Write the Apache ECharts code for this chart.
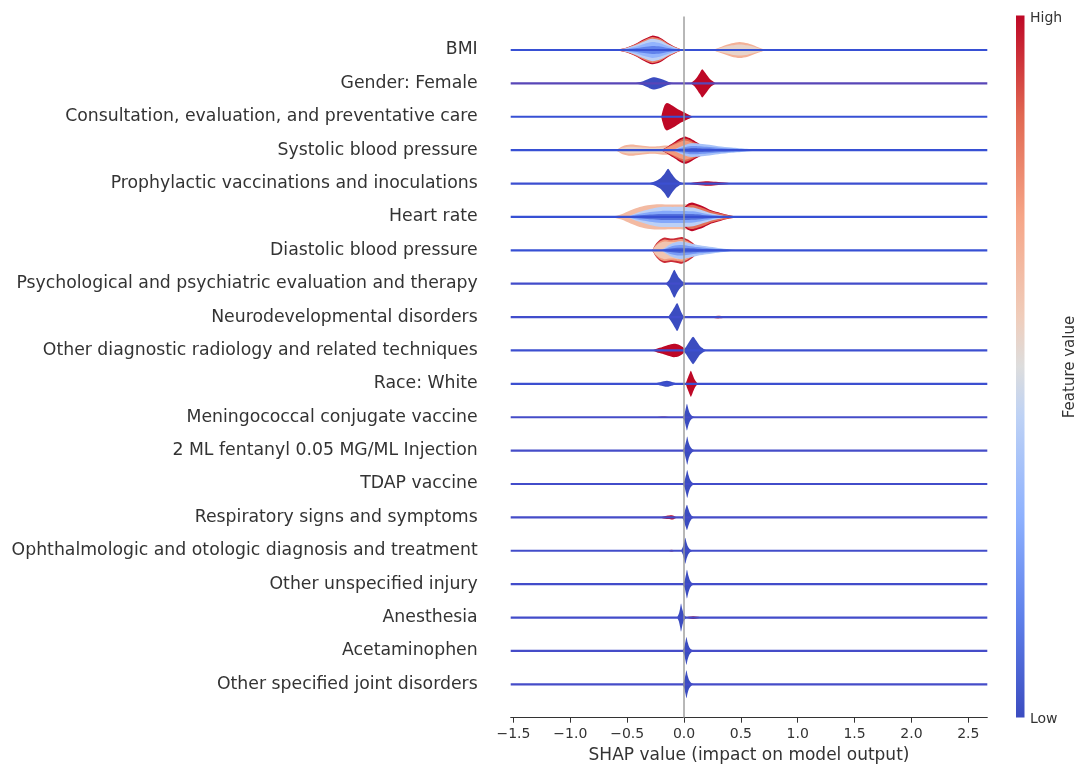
<!DOCTYPE html>
<html>
<head>
<meta charset="utf-8">
<title>SHAP violin summary</title>
<script src="https://cdn.jsdelivr.net/npm/echarts@6/dist/echarts.min.js"></script>
<style>
  html, body { margin: 0; padding: 0; background: #fff; }
  #chart { width: 1077px; height: 765px; }
</style>
</head>
<body>
<div id="chart"></div>
<script>
// Features, top to bottom
const features = [
  'BMI',
  'Gender: Female',
  'Consultation, evaluation, and preventative care',
  'Systolic blood pressure',
  'Prophylactic vaccinations and inoculations',
  'Heart rate',
  'Diastolic blood pressure',
  'Psychological and psychiatric evaluation and therapy',
  'Neurodevelopmental disorders',
  'Other diagnostic radiology and related techniques',
  'Race: White',
  'Meningococcal conjugate vaccine',
  '2 ML fentanyl 0.05 MG/ML Injection',
  'TDAP vaccine',
  'Respiratory signs and symptoms',
  'Ophthalmologic and otologic diagnosis and treatment',
  'Other unspecified injury',
  'Anesthesia',
  'Acetaminophen',
  'Other specified joint disorders'
];

const xTicks = [-1.5, -1.0, -0.5, 0.0, 0.5, 1.0, 1.5, 2.0, 2.5];
const xRange = [-1.524, 2.667];

// Share of high-valued samples along each row's thin baseline (0 = all low, 1 = all high)
const baselineMix = [0, 0.35, 0, 0, 0.05, 0, 0, 0.12, 0.1, 0.05, 0.05, 0.15, 0.15, 0.12, 0.15, 0.12, 0.12, 0.12, 0.15, 0.15];

// Violin lobes: pts = [SHAP value, half density (in row heights)],
// layers = [feature value colour (0 low .. 1 high), density scale], outer first
const vBMI = [
  { pts: [[-0.61,0],[-0.51,0.07],[-0.43,0.18],[-0.35,0.33],[-0.28,0.43],[-0.21,0.37],[-0.14,0.21],[-0.07,0.08],[-0.01,0]],
    layers: [[1,1],[0.8,0.9],[0.42,0.78],[0.3,0.55],[0.15,0.28]] },
  { pts: [[0.25,0],[0.33,0.1],[0.42,0.2],[0.49,0.24],[0.56,0.2],[0.64,0.1],[0.72,0]],
    layers: [[0.67,1],[0.54,0.7]] }
];
const vGender = [
  { pts: [[-0.43,0],[-0.36,0.06],[-0.3,0.15],[-0.26,0.18],[-0.2,0.13],[-0.14,0.05],[-0.08,0]], layers: [[0,1]] },
  { pts: [[0.06,0],[0.1,0.12],[0.14,0.32],[0.16,0.42],[0.19,0.3],[0.23,0.12],[0.28,0]], layers: [[1,1]] }
];
const vConsult = [
  { pts: [[-0.2,0],[-0.19,0.15],[-0.17,0.35],[-0.15,0.41],[-0.1,0.33],[-0.04,0.2],[0.02,0.1],[0.08,0]], layers: [[1,1]] }
];
const vSystolic = [
  { pts: [[-0.6,0],[-0.54,0.12],[-0.47,0.17],[-0.38,0.14],[-0.3,0.11],[-0.22,0.12],[-0.15,0.14],[-0.1,0.1],[-0.05,0]],
    layers: [[0.66,1],[0.55,0.6]] },
  { pts: [[-0.2,0],[-0.14,0.12],[-0.08,0.25],[-0.03,0.36],[0.01,0.41],[0.05,0.36],[0.1,0.26],[0.16,0.15],[0.22,0.07],[0.28,0]],
    layers: [[1,1],[0.86,0.85],[0.74,0.7]] },
  { pts: [[-0.1,0],[-0.02,0.12],[0.05,0.2],[0.12,0.2],[0.2,0.17],[0.3,0.12],[0.42,0.08],[0.55,0.04],[0.65,0]],
    layers: [[0.36,1],[0.2,0.6],[0.06,0.3]] }
];
const vProphylactic = [
  { pts: [[-0.31,0],[-0.26,0.06],[-0.21,0.15],[-0.17,0.3],[-0.14,0.44],[-0.11,0.3],[-0.07,0.13],[-0.03,0.04],[0.0,0]], layers: [[0,1]] },
  { pts: [[0.02,0],[0.1,0.04],[0.19,0.07],[0.28,0.05],[0.38,0.02],[0.45,0]], layers: [[1,1]] }
];
const vHeart = [
  { pts: [[-0.64,0],[-0.55,0.08],[-0.47,0.2],[-0.39,0.3],[-0.3,0.36],[-0.22,0.38],[-0.12,0.37],[-0.04,0.37],[0.02,0.38],[0.08,0.36],[0.14,0.28],[0.2,0.2],[0.28,0.1],[0.36,0.04],[0.45,0]],
    layers: [[0.64,1]] },
  { pts: [[-0.06,0],[-0.02,0.2],[0.03,0.38],[0.07,0.43],[0.12,0.38],[0.18,0.3],[0.24,0.2],[0.32,0.12],[0.4,0.05],[0.49,0]],
    layers: [[1,1],[0.84,0.85]] },
  { pts: [[-0.5,0],[-0.4,0.14],[-0.3,0.24],[-0.2,0.3],[-0.1,0.3],[0.0,0.3],[0.08,0.28],[0.16,0.2],[0.25,0.1],[0.35,0.03],[0.42,0]],
    layers: [[0.42,1],[0.26,0.6],[0.1,0.3]] }
];
const vDiastolic = [
  { pts: [[-0.28,0],[-0.25,0.18],[-0.21,0.32],[-0.17,0.38],[-0.12,0.35],[-0.07,0.37],[-0.02,0.4],[0.03,0.33],[0.07,0.24],[0.11,0.12],[0.15,0]],
    layers: [[0.95,1],[0.74,0.85],[0.6,0.7]] },
  { pts: [[-0.2,0],[-0.12,0.18],[-0.04,0.26],[0.04,0.22],[0.12,0.16],[0.2,0.12],[0.3,0.07],[0.4,0.03],[0.47,0]],
    layers: [[0.38,1],[0.22,0.6],[0.08,0.3]] }
];
const vPsych = [
  { pts: [[-0.16,0],[-0.13,0.12],[-0.105,0.3],[-0.085,0.42],[-0.065,0.3],[-0.04,0.16],[-0.01,0.06],[0.03,0]], layers: [[0,1]] }
];
const vNeuro = [
  { pts: [[-0.14,0],[-0.11,0.15],[-0.08,0.32],[-0.06,0.42],[-0.04,0.28],[-0.02,0.12],[0.0,0]], layers: [[0,1]] },
  { pts: [[0.2,0],[0.3,0.04],[0.42,0]], layers: [[0.95,1]] }
];
const vRadiology = [
  { pts: [[-0.28,0],[-0.24,0.05],[-0.19,0.1],[-0.14,0.16],[-0.09,0.2],[-0.05,0.18],[-0.01,0.1],[0.01,0]], layers: [[1,1]] },
  { pts: [[-0.01,0],[0.02,0.12],[0.05,0.28],[0.08,0.41],[0.11,0.28],[0.14,0.13],[0.17,0.05],[0.2,0]], layers: [[0,1]] }
];
const vRace = [
  { pts: [[-0.27,0],[-0.21,0.05],[-0.15,0.09],[-0.1,0.05],[-0.05,0]], layers: [[0,1]] },
  { pts: [[0.015,0],[0.03,0.15],[0.05,0.32],[0.06,0.39],[0.075,0.28],[0.095,0.12],[0.12,0]], layers: [[1,1]] }
];
const vMeningo = [
  { pts: [[-0.25,0],[-0.18,0.02],[-0.12,0]], layers: [[0.95,1]] },
  { pts: [[-0.01,0],[0.005,0.12],[0.018,0.3],[0.026,0.4],[0.038,0.25],[0.052,0.12],[0.072,0.04],[0.1,0]], layers: [[0,1]] }
];
const vFentanyl = [
  { pts: [[-0.01,0],[0.006,0.12],[0.02,0.3],[0.028,0.42],[0.04,0.25],[0.055,0.12],[0.075,0.04],[0.1,0]], layers: [[0,1]] }
];
const vTDAP = [
  { pts: [[-0.01,0],[0.006,0.12],[0.02,0.3],[0.028,0.42],[0.04,0.26],[0.055,0.12],[0.075,0.04],[0.1,0]], layers: [[0,1]] }
];
const vRespiratory = [
  { pts: [[-0.21,0],[-0.15,0.05],[-0.1,0.06],[-0.06,0]], layers: [[1,1]] },
  { pts: [[-0.015,0],[0.0,0.12],[0.015,0.28],[0.026,0.38],[0.038,0.26],[0.052,0.13],[0.07,0.04],[0.09,0]], layers: [[0,1]] }
];
const vOphthalmo = [
  { pts: [[-0.14,0],[-0.11,0.03],[-0.08,0]], layers: [[0.9,1]] },
  { pts: [[-0.025,0],[-0.01,0.12],[0.003,0.28],[0.011,0.39],[0.022,0.25],[0.036,0.12],[0.055,0.04],[0.08,0]], layers: [[0,1]] }
];
const vInjury = [
  { pts: [[-0.01,0],[0.006,0.12],[0.018,0.3],[0.026,0.43],[0.038,0.26],[0.052,0.12],[0.07,0.04],[0.095,0]], layers: [[0,1]] }
];
const vAnesthesia = [
  { pts: [[0.0,0],[0.08,0.04],[0.17,0]], layers: [[1,1]] },
  { pts: [[-0.06,0],[-0.045,0.12],[-0.034,0.28],[-0.026,0.42],[-0.016,0.26],[-0.004,0.12],[0.01,0.04],[0.03,0]], layers: [[0,1]] }
];
const vAcetaminophen = [
  { pts: [[-0.22,0],[-0.15,0.03],[-0.07,0]], layers: [[0.9,1]] },
  { pts: [[-0.012,0],[0.002,0.12],[0.014,0.3],[0.021,0.42],[0.032,0.26],[0.046,0.12],[0.065,0.04],[0.09,0]], layers: [[0,1]] }
];
const vJoint = [
  { pts: [[-0.012,0],[0.002,0.12],[0.014,0.3],[0.021,0.42],[0.032,0.26],[0.046,0.12],[0.065,0.04],[0.09,0]], layers: [[0,1]] }
];

const violins = [vBMI, vGender, vConsult, vSystolic, vProphylactic, vHeart, vDiastolic, vPsych, vNeuro,
  vRadiology, vRace, vMeningo, vFentanyl, vTDAP, vRespiratory, vOphthalmo, vInjury, vAnesthesia, vAcetaminophen, vJoint];

// coolwarm colour map
const cmapStops = [
  [0.0, [59, 76, 192]],
  [0.143, [95, 128, 234]],
  [0.286, [142, 177, 254]],
  [0.429, [190, 210, 245]],
  [0.5, [221, 221, 221]],
  [0.571, [240, 205, 187]],
  [0.714, [246, 165, 135]],
  [0.857, [225, 104, 82]],
  [1.0, [190, 8, 38]]
];
function coolwarm(t) {
  t = Math.max(0, Math.min(1, t));
  for (let k = 1; k < cmapStops.length; k++) {
    const [t1, c1] = cmapStops[k];
    if (t <= t1) {
      const [t0, c0] = cmapStops[k - 1];
      const f = (t - t0) / (t1 - t0);
      const c = c0.map((v, j) => Math.round(v + (c1[j] - v) * f));
      return 'rgb(' + c.join(',') + ')';
    }
  }
  return 'rgb(190,8,38)';
}
function mix(a, b, f) {
  return 'rgb(' + a.map((v, j) => Math.round(v + (b[j] - v) * f)).join(',') + ')';
}

const nRows = features.length;
const rowData = features.map((_, i) => [0, nRows - 1 - i, i]);

function renderViolin(params, api) {
  const i = api.value(2);
  const yPos = api.value(1);
  const rowPx = api.size([0, 1])[1];
  const yc = api.coord([0, yPos])[1];
  const children = [];
  violins[i].forEach(lobe => {
    lobe.layers.forEach(([c, s]) => {
      const top = lobe.pts.map(([x, h]) => [api.coord([x, yPos])[0], yc - h * s * rowPx]);
      const bot = lobe.pts.slice().reverse().map(([x, h]) => [api.coord([x, yPos])[0], yc + h * s * rowPx]);
      children.push({
        type: 'polygon',
        shape: { points: top.concat(bot), smooth: 0.25 },
        style: { fill: coolwarm(c) }
      });
    });
  });
  const x0 = api.coord([xRange[0], yPos])[0];
  const x1 = api.coord([xRange[1], yPos])[0];
  children.push({
    type: 'line',
    shape: { x1: x0, y1: yc, x2: x1, y2: yc },
    style: { stroke: mix([55, 80, 212], [150, 50, 130], baselineMix[i]), lineWidth: 2.2 }
  });
  return { type: 'group', children };
}

const fmtTick = v => (v < 0 ? '\u2212' : '') + Math.abs(v).toFixed(1);

const chart = echarts.init(document.getElementById('chart'), null, { renderer: 'canvas' });

const gridLeft = 510.7, gridTop = 16.6, gridW = 476.6, gridH = 701.1;

chart.setOption({
  animation: false,
  backgroundColor: '#ffffff',
  textStyle: { fontFamily: 'DejaVu Sans' },
  grid: {
    left: gridLeft, top: gridTop, width: gridW, height: gridH,
    containLabel: false, outerBoundsMode: 'none'
  },
  xAxis: {
    type: 'value',
    min: xRange[0],
    max: xRange[1],
    splitLine: { show: false },
    axisLine: { show: true, onZero: false, lineStyle: { color: '#333', width: 1 } },
    axisTick: { show: true, length: 5, customValues: xTicks, lineStyle: { color: '#333' } },
    axisLabel: {
      customValues: xTicks, formatter: fmtTick, color: '#333',
      fontSize: 14, margin: 10, fontFamily: 'DejaVu Sans'
    },
    name: 'SHAP value (impact on model output)',
    nameLocation: 'middle',
    nameGap: 29,
    nameTextStyle: { fontSize: 17, color: '#333', fontFamily: 'DejaVu Sans' }
  },
  yAxis: {
    type: 'value',
    min: -1,
    max: nRows,
    interval: 1,
    splitLine: { show: false },
    axisLine: { show: false },
    axisTick: { show: false },
    axisLabel: {
      customValues: features.map((_, i) => i),
      formatter: v => features[nRows - 1 - v] || '',
      color: '#333', fontSize: 17.3, margin: 33, fontFamily: 'DejaVu Sans'
    }
  },
  series: [
    {
      type: 'custom',
      renderItem: renderViolin,
      data: rowData,
      encode: { x: 0, y: 1 },
      silent: true,
      z: 2
    },
    {
      type: 'line',
      data: [[0, -1], [0, nRows]],
      symbol: 'none',
      silent: true,
      lineStyle: { color: '#999', width: 1.4 },
      z: 5
    }
  ],
  graphic: [
    {
      type: 'rect',
      shape: { x: 1016, y: 15.5, width: 8.5, height: 702 },
      style: {
        fill: new echarts.graphic.LinearGradient(0, 0, 0, 1,
          cmapStops.map(([t]) => ({ offset: 1 - t, color: coolwarm(t) })).reverse())
      }
    },
    {
      type: 'text', x: 1030, y: 18,
      style: { text: 'High', fill: '#333', font: '14px "DejaVu Sans"', textVerticalAlign: 'middle' }
    },
    {
      type: 'text', x: 1030, y: 719,
      style: { text: 'Low', fill: '#333', font: '14px "DejaVu Sans"', textVerticalAlign: 'middle' }
    },
    {
      type: 'text', x: 1070, y: 367, rotation: Math.PI / 2,
      style: { text: 'Feature value', fill: '#333', font: '15px "DejaVu Sans"', textAlign: 'center', textVerticalAlign: 'middle' }
    }
  ]
});
</script>
</body>
</html>
